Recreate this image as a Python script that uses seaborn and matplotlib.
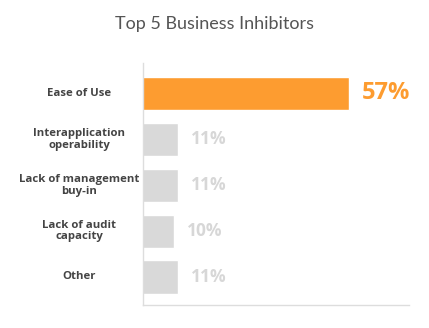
import matplotlib
matplotlib.use("Agg")
import matplotlib.pyplot as plt
import seaborn as sns
import pandas as pd

categories = ["Ease of Use", "Interapplication\noperability", "Lack of management\nbuy-in",
              "Lack of audit\ncapacity", "Other"]
values = [57, 11, 11, 10, 11]
labels = ["57%", "11%", "11%", "10%", "11%"]
bar_colors = ["#fd9c30", "#d9d9d9", "#d9d9d9", "#d9d9d9", "#d9d9d9"]

sns.set_theme(style="white")
plt.rcParams['font.family'] = ['Open Sans', 'DejaVu Sans']

df = pd.DataFrame({"category": categories, "value": values})

fig = plt.figure(figsize=(4.29, 3.28), dpi=100)
ax = fig.add_axes([143/429, 1-305/328, (409-143)/429, (305-63)/328])

sns.barplot(data=df, y="category", x="value", hue="category", palette=bar_colors,
            orient="h", width=0.72, legend=False, ax=ax, saturation=1)

ax.set_xlim(1.6, 73.1)
ax.set_ylim(4.61, -0.66)
ax.set_xlabel("")
ax.set_ylabel("")
ax.set_xticks([])
ax.set_yticks([])
for s in ["top", "right"]:
    ax.spines[s].set_visible(False)
for s in ["left", "bottom"]:
    ax.spines[s].set_color("#dddddd")
    ax.spines[s].set_linewidth(1)

trans = matplotlib.transforms.blended_transform_factory(fig.transFigure, ax.transData)
for i, (cat, v, lab) in enumerate(zip(categories, values, labels)):
    ax.text(79/429, i, cat, transform=trans, ha="center", va="center",
            fontsize=8.2, fontweight="bold", color="#444444", linespacing=1.1)
    if i == 0:
        ax.text(v + 3.5, i, lab, ha="left", va="center", fontsize=17,
                fontweight="bold", color="#fd9c30")
    else:
        ax.text(v + 3.5, i, lab, ha="left", va="center", fontsize=12.5,
                fontweight="bold", color="#d7d7d7")

fig.text(0.5, 1-24/328, "Top 5 Business Inhibitors", ha="center", va="center",
         fontsize=13, color="#555555", family=["Lato", "DejaVu Sans"])

fig.savefig("out.png", dpi=100)
